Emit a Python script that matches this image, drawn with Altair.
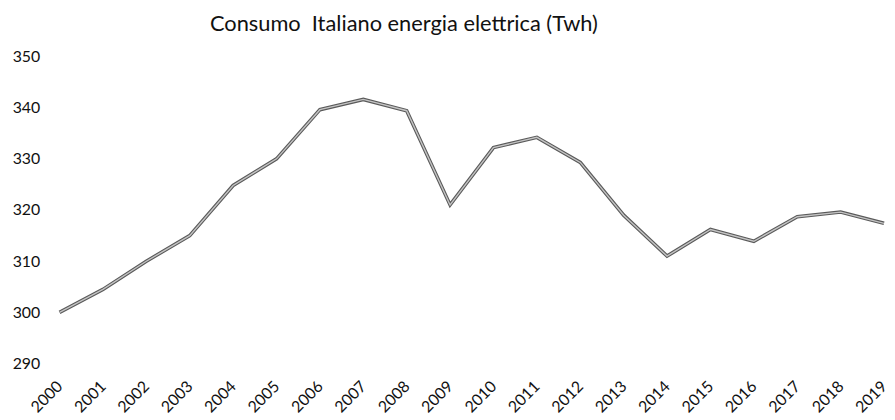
import altair as alt
import pandas as pd

years = [str(y) for y in range(2000, 2020)]
consumo = [300.0, 304.5, 310.0, 315.0, 324.8, 330.0, 339.6, 341.6, 339.4, 321.0,
           332.2, 334.2, 329.3, 319.0, 311.0, 316.2, 313.9, 318.7, 319.6, 317.4]
y_ticks = [290, 300, 310, 320, 330, 340, 350]

df = pd.DataFrame({"anno": years, "twh": consumo})

FONT = "Lato"

x_scale = alt.Scale(type="point", range=[16, 848], padding=0)
y_scale = alt.Scale(domain=[290, 350], nice=False, zero=False)

x_enc = alt.X("anno:O", sort=None, scale=x_scale,
              axis=alt.Axis(title=None, labelAngle=-45, labelFontSize=16, labelFont=FONT,
                            labelColor="#111", domain=False, ticks=False, grid=False,
                            labelPadding=20, labelAlign="right", labelBaseline="middle"))
y_enc = alt.Y("twh:Q", scale=y_scale,
              axis=alt.Axis(title=None, values=y_ticks, labelFontSize=16, labelFont=FONT,
                            labelColor="#111", domain=False, ticks=False, grid=False,
                            labelPadding=4))

outer = alt.Chart(df).mark_line(color="#5a5a5a", strokeWidth=3.6).encode(x=x_enc, y=y_enc)
inner = alt.Chart(df).mark_line(color="#c4c4c4", strokeWidth=1.4).encode(
    x=alt.X("anno:O", sort=None), y=alt.Y("twh:Q"))

chart = alt.layer(outer, inner).properties(
    width=851, height=310,
    title=alt.TitleParams("Consumo\u00a0\u00a0Italiano energia elettrica (Twh)", font=FONT,
                          fontSize=22, fontWeight="normal", color="#111", anchor="middle",
                          dx=-62, offset=13),
    autosize=alt.AutoSizeParams(type="none"),
    padding={"left": 36, "top": 47, "right": 0, "bottom": 55},
).configure(background="white").configure_view(stroke=None).configure_axis(grid=False)

chart.save("out.html", embed_options={"renderer": "svg", "actions": False})
